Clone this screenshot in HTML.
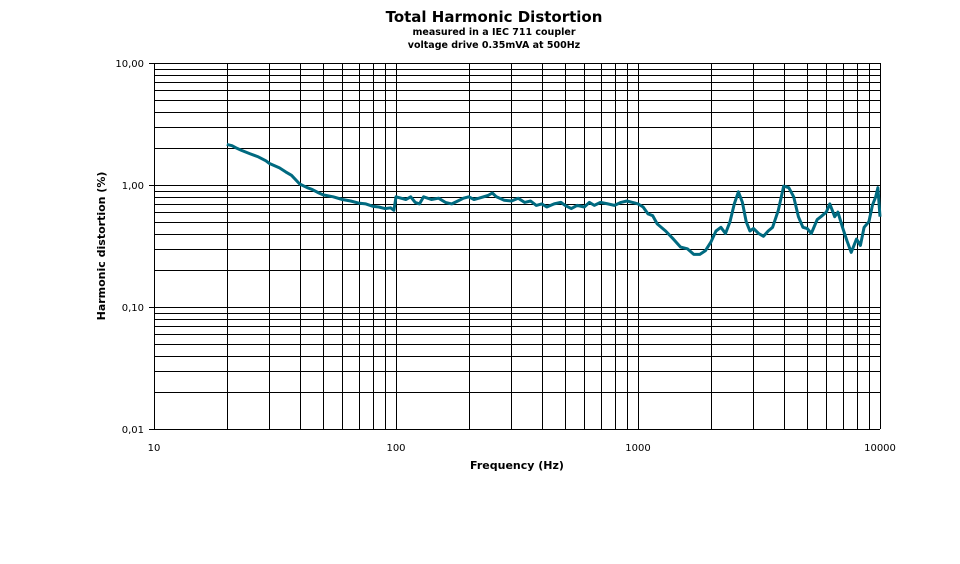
<!DOCTYPE html>
<html><head><meta charset="utf-8"><style>
body{margin:0;background:#fff;width:960px;height:559px;overflow:hidden}
svg text{font-family:"DejaVu Sans","Liberation Sans",sans-serif;fill:#000}
</style></head><body>
<svg id="chart" width="960" height="559" xmlns="http://www.w3.org/2000/svg">
<text x="494" y="22" text-anchor="middle" font-size="15" font-weight="bold">Total Harmonic Distortion</text>
<text x="494" y="35" text-anchor="middle" font-size="9.5" font-weight="bold">measured in a IEC 711 coupler</text>
<text x="494" y="48" text-anchor="middle" font-size="9.5" font-weight="bold">voltage drive 0.35mVA at 500Hz</text>
<g id="grid"></g>
<g id="axes"></g>
<path id="series" fill="none" stroke="#006a80" stroke-width="3" stroke-linejoin="round"/>
<text x="517" y="469" text-anchor="middle" font-size="11" font-weight="bold">Frequency (Hz)</text>
<text transform="translate(105,246) rotate(-90)" text-anchor="middle" font-size="11" font-weight="bold">Harmonic distortion (%)</text>
</svg>
<script>
const freqs=[20,21,22,23,25,27,29,30,33,35,37,40,43,45,48,50,55,60,65,70,75,80,85,90,95,98,100,105,110,115,120,125,130,140,150,160,170,180,190,200,210,220,240,250,260,280,300,320,340,360,380,400,420,450,480,500,530,560,600,630,660,700,750,800,850,900,950,1000,1050,1100,1150,1200,1300,1400,1500,1600,1700,1800,1900,2000,2100,2200,2300,2400,2500,2600,2700,2800,2900,3000,3150,3300,3450,3600,3800,4000,4200,4400,4600,4800,5000,5200,5500,5700,6000,6200,6500,6700,7000,7300,7600,8000,8300,8600,9000,9300,9600,9800,10000];
const thd=[2.15,2.1,2.0,1.92,1.8,1.7,1.58,1.5,1.38,1.28,1.2,1.02,0.95,0.92,0.86,0.83,0.8,0.76,0.74,0.71,0.7,0.67,0.66,0.64,0.65,0.62,0.8,0.78,0.76,0.8,0.72,0.7,0.8,0.76,0.78,0.72,0.7,0.74,0.78,0.8,0.76,0.78,0.82,0.86,0.8,0.75,0.74,0.78,0.72,0.74,0.68,0.7,0.66,0.7,0.72,0.68,0.64,0.68,0.66,0.72,0.68,0.72,0.7,0.68,0.72,0.74,0.72,0.7,0.66,0.58,0.56,0.48,0.42,0.36,0.31,0.3,0.27,0.27,0.29,0.34,0.42,0.45,0.4,0.5,0.7,0.88,0.72,0.5,0.42,0.44,0.4,0.38,0.42,0.45,0.62,0.98,0.95,0.8,0.55,0.45,0.44,0.4,0.52,0.55,0.6,0.7,0.55,0.6,0.45,0.35,0.28,0.36,0.32,0.45,0.5,0.68,0.8,0.95,0.55];
const xTicks=[10,100,1000,10000];
const xTickLabels=["10","100","1000","10000"];
const yTicks=[10,1,0.1,0.01];
const yTickLabels=["10,00","1,00","0,10","0,01"];
const X0=154,X1=880,Y0=63,Y1=429;
const xs=f=>X0+(X1-X0)*(Math.log10(f)-1)/3;
const ys=v=>Y1-(Y1-Y0)*(Math.log10(v)+2)/3;
const NS="http://www.w3.org/2000/svg";
const grid=document.getElementById('grid'),axes=document.getElementById('axes');
function ln(g,x1,y1,x2,y2,c,w){const l=document.createElementNS(NS,'line');l.setAttribute('x1',x1);l.setAttribute('y1',y1);l.setAttribute('x2',x2);l.setAttribute('y2',y2);l.setAttribute('stroke',c);l.setAttribute('stroke-width',w);g.appendChild(l);return l;}
for(let d=1;d<=1000;d*=10)for(let m=1;m<=10;m++){const f=d*10*m;if(f>10000)break;const x=Math.round(xs(f))+0.5;
const l=ln(grid,x,Y0,x,Y1,'#000',1);

}
for(let d=0.01;d<10;d*=10)for(let m=1;m<=10;m++){const v=d*m;const y=Math.round(ys(v))+0.5;
const l=ln(grid,X0,y,X1,y,'#000',1);

}
const ax=ln(axes,X0+0.5,Y0,X0+0.5,Y1,'#000',1);


xTicks.forEach((f,i)=>{const t=document.createElementNS(NS,'text');t.setAttribute('x',xs(f));t.setAttribute('y',451);t.setAttribute('text-anchor','middle');t.setAttribute('font-size','10');t.textContent=xTickLabels[i];


axes.appendChild(t);});
yTicks.forEach((v,i)=>{const y=ys(v);const t=document.createElementNS(NS,'text');t.setAttribute('x',144);t.setAttribute('y',y+4);t.setAttribute('text-anchor','end');t.setAttribute('font-size','10');t.textContent=yTickLabels[i];


axes.appendChild(t);
const tk=ln(axes,X0-5,Math.round(y)+0.5,X0,Math.round(y)+0.5,'#000',1);

});
document.getElementById('series').setAttribute('d',freqs.map((f,i)=>(i?'L':'M')+xs(f).toFixed(1)+','+ys(thd[i]).toFixed(1)).join(' '));
</script>
</body></html>
